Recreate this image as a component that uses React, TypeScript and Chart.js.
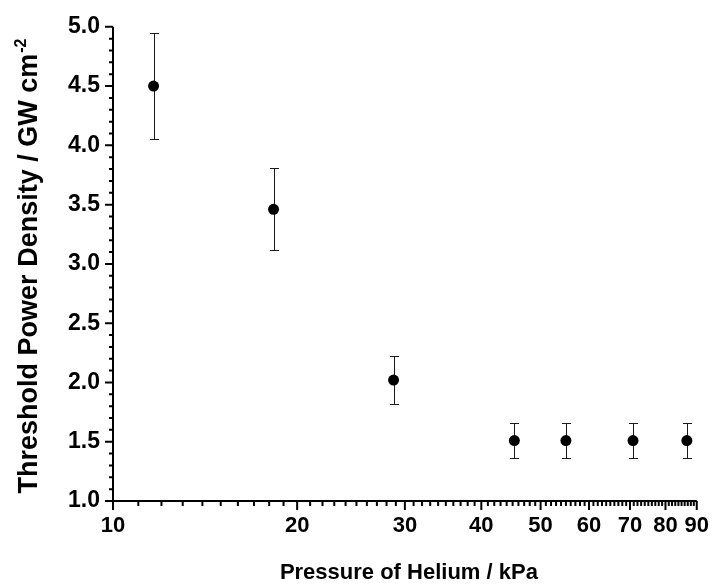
import React, { useEffect, useRef } from 'react';
import { Chart, registerables } from 'chart.js';

Chart.register(...registerables);

// ---- data ----
const pressure = [11.65, 18.3, 28.75, 45.3, 55.0, 70.8, 86.7];
const density = [4.5, 3.46, 2.02, 1.51, 1.51, 1.51, 1.51];
const errLow = [4.05, 3.12, 1.82, 1.36, 1.36, 1.36, 1.36];
const errHigh = [4.95, 3.81, 2.22, 1.66, 1.66, 1.66, 1.66];

const xMajorTicks = [10, 20, 30, 40, 50, 60, 70, 80, 90];
const yMajorTicks = [1.0, 1.5, 2.0, 2.5, 3.0, 3.5, 4.0, 4.5, 5.0];

const xTitle = 'Pressure of Helium / kPa';
const yTitle = 'Threshold Power Density / GW cm';
const yTitleSup = '-2';

const FONT = '"Liberation Sans", Arial, Helvetica, sans-serif';

const decorPlugin = {
  id: 'decor',
  beforeDatasetsDraw(chart: any) {
    const ctx = chart.ctx;
    const xs = chart.scales.x;
    const ys = chart.scales.y;
    ctx.save();
    ctx.strokeStyle = '#1a1a1a';
    ctx.lineWidth = 1;
    pressure.forEach((p, i) => {
      const x = Math.round(xs.getPixelForValue(p)) + 0.5;
      const yl = Math.round(ys.getPixelForValue(errLow[i])) + 0.5;
      const yh = Math.round(ys.getPixelForValue(errHigh[i])) + 0.5;
      ctx.beginPath();
      ctx.moveTo(x, yh);
      ctx.lineTo(x, yl);
      ctx.moveTo(x - 4.5, yh);
      ctx.lineTo(x + 4.5, yh);
      ctx.moveTo(x - 4.5, yl);
      ctx.lineTo(x + 4.5, yl);
      ctx.stroke();
    });
    ctx.restore();
  },
  afterDraw(chart: any) {
    const ctx = chart.ctx;
    const xs = chart.scales.x;
    const ys = chart.scales.y;
    const { left, right, top, bottom } = chart.chartArea;
    ctx.save();
    ctx.strokeStyle = '#000';
    ctx.lineWidth = 2;
    ctx.lineCap = 'butt';
    // axis lines
    ctx.beginPath();
    ctx.moveTo(left, top);
    ctx.lineTo(left, bottom);
    ctx.moveTo(left - 1, bottom);
    ctx.lineTo(right, bottom);
    ctx.stroke();
    // x ticks (every integer, majors longer)
    ctx.beginPath();
    for (let v = 10; v <= 90; v++) {
      const x = xs.getPixelForValue(v);
      const len = xMajorTicks.includes(v) ? 9 : 5;
      ctx.moveTo(x, bottom);
      ctx.lineTo(x, bottom + len);
    }
    // y ticks (every 0.1, majors longer)
    for (let k = 10; k <= 50; k++) {
      const v = k / 10;
      const y = ys.getPixelForValue(v);
      const len = k % 5 === 0 ? 8 : 4;
      ctx.moveTo(left - len, y);
      ctx.lineTo(left, y);
    }
    ctx.stroke();

    // titles
    ctx.fillStyle = '#000';
    ctx.font = `bold 22px ${FONT}`;
    ctx.textAlign = 'center';
    ctx.textBaseline = 'alphabetic';
    ctx.fillText(xTitle, (left + right) / 2 + 4, 579);

    const mainSize = 27;
    const supSize = 16;
    ctx.font = `bold ${mainSize}px ${FONT}`;
    const w1 = ctx.measureText(yTitle).width;
    ctx.font = `bold ${supSize}px ${FONT}`;
    const w2 = ctx.measureText(yTitleSup).width;
    const total = w1 + w2 + 1;
    ctx.translate(37, 266);
    ctx.rotate(-Math.PI / 2);
    ctx.textAlign = 'left';
    ctx.font = `bold ${mainSize}px ${FONT}`;
    ctx.fillText(yTitle, -total / 2, 0);
    ctx.font = `bold ${supSize}px ${FONT}`;
    ctx.fillText(yTitleSup, -total / 2 + w1 + 1, -mainSize * 0.42);
    ctx.restore();
  },
};

export default function App() {
  const ref = useRef<HTMLCanvasElement>(null);
  useEffect(() => {
    if (!ref.current) return;
    const chart = new Chart(ref.current, {
      type: 'scatter',
      data: {
        datasets: [
          {
            data: pressure.map((p, i) => ({ x: p, y: density[i] })),
            backgroundColor: '#000',
            borderColor: '#000',
            borderWidth: 0,
            pointRadius: 5.5,
            pointHoverRadius: 5.5,
          },
        ],
      },
      options: {
        responsive: false,
        animation: false,
        events: [],
        layout: { padding: { top: 20, right: 15, bottom: 0, left: 0 } },
        plugins: { legend: { display: false }, tooltip: { enabled: false } },
        scales: {
          x: {
            type: 'logarithmic',
            min: 10,
            max: 90,
            grid: { display: false, drawTicks: false },
            border: { display: false },
            afterBuildTicks: (s: any) => {
              s.ticks = xMajorTicks.map((v) => ({ value: v }));
            },
            afterFit: (s: any) => {
              s.height = 86;
            },
            ticks: {
              autoSkip: false,
              maxRotation: 0,
              padding: 12,
              color: '#000',
              font: { family: FONT, size: 22, weight: 'bold' },
              callback: (v: any) => String(Math.round(Number(v))),
            },
          },
          y: {
            type: 'linear',
            min: 1,
            max: 5,
            grid: { display: false, drawTicks: false },
            border: { display: false },
            afterBuildTicks: (s: any) => {
              s.ticks = yMajorTicks.map((v) => ({ value: v }));
            },
            afterFit: (s: any) => {
              s.width = 113;
            },
            ticks: {
              autoSkip: false,
              padding: 13,
              color: '#000',
              font: { family: FONT, size: 23, weight: 'bold' },
              callback: (v: any) => Number(v).toFixed(1),
            },
          },
        },
      },
      plugins: [decorPlugin],
    });
    return () => chart.destroy();
  }, []);
  return (
    <canvas
      ref={ref}
      width={721}
      height={587}
      style={{ position: 'absolute', left: 0, top: 0, display: 'block' }}
    />
  );
}
